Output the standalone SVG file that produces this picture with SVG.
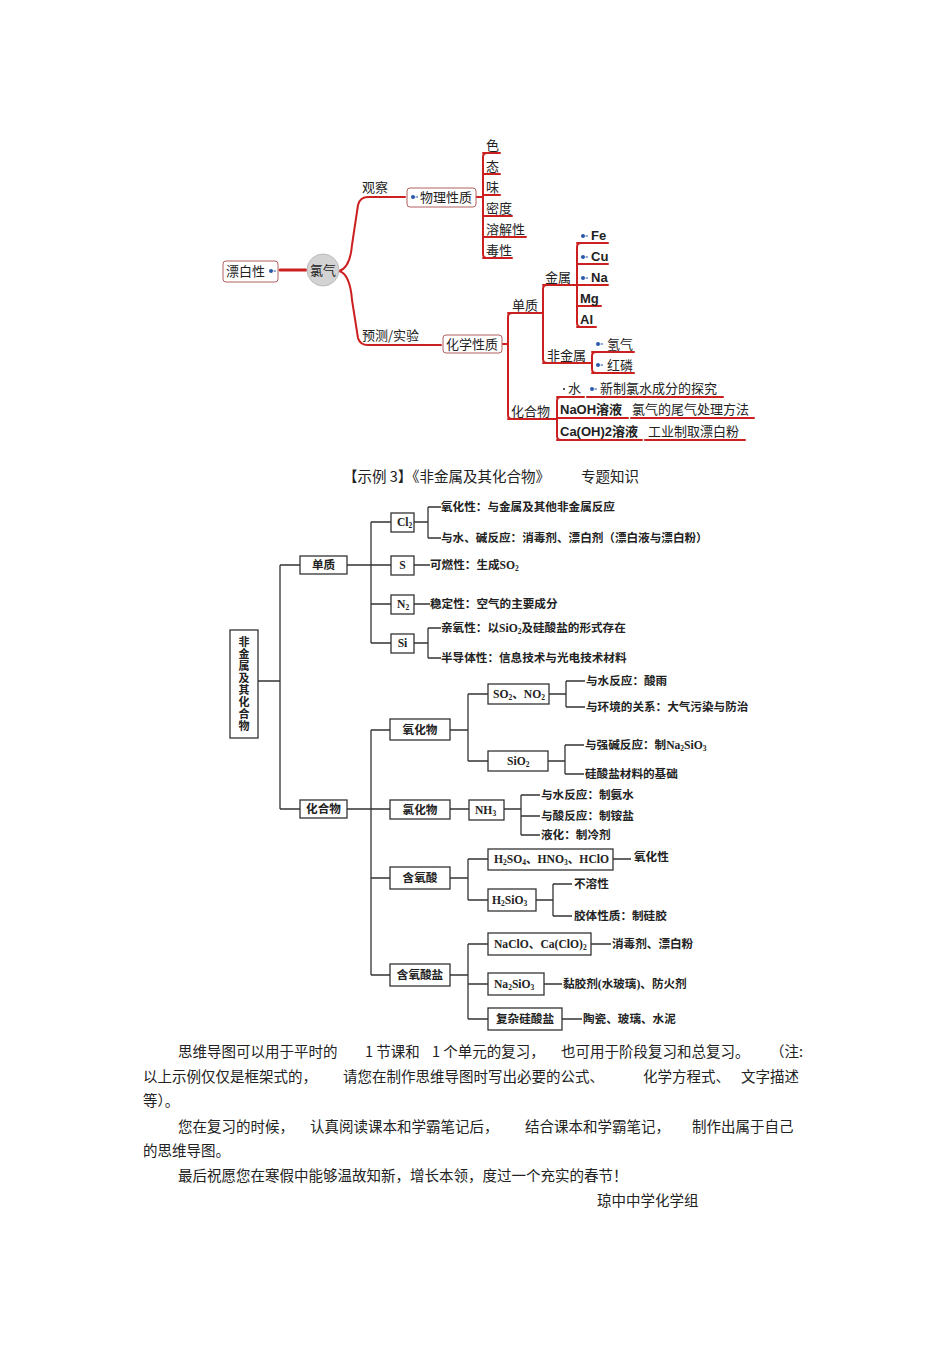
<svg xmlns="http://www.w3.org/2000/svg" width="950" height="1345" viewBox="0 0 950 1345">
<style>
.r{fill:none;stroke:#cc1f1f;stroke-width:2;stroke-linecap:round;stroke-linejoin:round}
.rb{fill:none;stroke:#cc1f1f;stroke-width:3;stroke-linecap:round;stroke-linejoin:round}
.mt{font-family:"Noto Sans CJK SC","Liberation Sans",sans-serif;font-size:13px;fill:#222}
.ml{font-family:"Liberation Sans","Noto Sans CJK SC",sans-serif;font-size:13px;font-weight:bold;fill:#222}
.mbox{fill:#fff;stroke:#b06060;stroke-width:1}
.dot{fill:#2a57a8}
.k{fill:none;stroke:#333;stroke-width:1.3}
.kb{fill:#fff;stroke:#333;stroke-width:1.3}
.t{font-family:"Liberation Serif","Noto Sans CJK SC",serif;font-size:11.6px;fill:#222;font-weight:bold}
.v{font-family:"Noto Sans CJK SC",sans-serif;font-size:11px;fill:#222;font-weight:bold;writing-mode:vertical-rl;letter-spacing:1px}
.p{font-family:"Noto Sans CJK SC","Liberation Sans",sans-serif;font-size:14.5px;fill:#222}
</style>
<rect width="950" height="1345" fill="#fff"/>

<!-- Top mind map -->
<g id="connectors-top">
<path d="M280,270 L306,270" class="rb" stroke-width="4"/>
<path d="M339,271 Q350,268 352,245 L358,205 Q360,197 368,197 L405,197" class="r" stroke-width="2.5"/>
<path d="M339,271 Q350,274 352,300 L358,338 Q360,345 368,345 L441,345" class="r" stroke-width="2.5"/>
<path d="M476,197 L483,197 M487,153 Q483,153 483,157 L483,254 Q483,258 487,258" class="r"/>
<path d="M483,153 L500,153 M483,174 L500,174 M483,195 L500,195 M483,216 L512,216 M483,237 L526,237 M483,258 L512,258" class="r"/>
<path d="M502,344 L508,344 M512,313 Q508,313 508,317 L508,415 Q508,419 512,419" class="r"/>
<path d="M508,313 L541,313 M541,313 L543,313 M547,285 Q543,285 543,289 L543,359 Q543,363 547,363" class="r"/>
<path d="M543,285 L576,285 M576,285 L577,285 M581,243 Q577,243 577,247 L577,323 Q577,327 581,327" class="r"/>
<path d="M577,243 L608,243 M577,264 L608,264 M577,285 L608,285 M577,306 L601,306 M577,327 L596,327" class="r"/>
<path d="M543,363 L590,363 L592,363 M596,352 Q592,352 592,356 L592,369 Q592,373 596,373 M592,352 L634,352 M592,373 L634,373" class="r"/>
<path d="M508,419 L553,419 L557,419 M561,397 Q557,397 557,401 L557,436 Q557,440 561,440" class="r"/>
<path d="M557,397 L584,397 M587,397 L723,397 M557,418 L628,418 M631,418 L754,418 M557,440 L642,440 M645,440 L745,440" class="r"/>
</g>
<g id="n-piaobai">
<rect x="223" y="261" width="55" height="21" rx="3" class="mbox"/>
<text x="226" y="276" class="mt">漂白性</text>
<circle cx="271" cy="271" r="2" class="dot"/><path d="M273.5,271 L276,271" stroke="#2a57a8" stroke-width="1"/>
</g>
<g id="n-lvqi">
<circle cx="323" cy="270" r="16" fill="#d3d3d3" stroke="#bbb" stroke-width="1"/>
<text x="323" y="275" class="mt" text-anchor="middle">氯气</text>
</g>
<g id="n-guancha"><text x="362" y="192" class="mt">观察</text></g>
<g id="n-yuce"><text x="362" y="340" class="mt">预测/实验</text></g>
<g id="n-wuli">
<rect x="407" y="188" width="69" height="19" rx="3" class="mbox"/>
<circle cx="413" cy="197" r="2" class="dot"/><path d="M415.5,197 L418,197" stroke="#2a57a8" stroke-width="1"/>
<text x="420" y="202" class="mt">物理性质</text>
</g>
<g id="n-phys-items">
<text x="486" y="150" class="mt">色</text>
<text x="486" y="171" class="mt">态</text>
<text x="486" y="192" class="mt">味</text>
<text x="486" y="213" class="mt">密度</text>
<text x="486" y="234" class="mt">溶解性</text>
<text x="486" y="255" class="mt">毒性</text>
</g>
<g id="n-huaxue">
<rect x="443" y="335" width="59" height="18" rx="3" class="mbox"/>
<text x="446" y="349" class="mt">化学性质</text>
</g>
<g id="n-danzhi"><text x="512" y="310" class="mt">单质</text></g>
<g id="n-jinshu"><text x="545" y="282" class="mt">金属</text></g>
<g id="n-metals">
<circle cx="583" cy="236" r="2" class="dot"/><path d="M585.5,236 L588,236" stroke="#2a57a8" stroke-width="1"/>
<text x="591" y="240" class="ml">Fe</text>
<circle cx="583" cy="257" r="2" class="dot"/><path d="M585.5,257 L588,257" stroke="#2a57a8" stroke-width="1"/>
<text x="591" y="261" class="ml">Cu</text>
<circle cx="583" cy="278" r="2" class="dot"/><path d="M585.5,278 L588,278" stroke="#2a57a8" stroke-width="1"/>
<text x="591" y="282" class="ml">Na</text>
<text x="580" y="303" class="ml">Mg</text>
<text x="580" y="324" class="ml">Al</text>
</g>
<g id="n-feijinshu"><text x="547" y="360" class="mt">非金属</text></g>
<g id="n-nonmetals">
<circle cx="598" cy="344" r="2" class="dot"/><path d="M600.5,344 L603,344" stroke="#2a57a8" stroke-width="1"/>
<text x="607" y="349" class="mt">氢气</text>
<circle cx="598" cy="365" r="2" class="dot"/><path d="M600.5,365 L603,365" stroke="#2a57a8" stroke-width="1"/>
<text x="607" y="370" class="mt">红磷</text>
</g>
<g id="n-huahewu"><text x="511" y="416" class="mt">化合物</text></g>
<g id="n-compounds">
<circle cx="564" cy="389" r="1" fill="#222"/>
<text x="568" y="393" class="mt">水</text>
<circle cx="592" cy="389" r="2" class="dot"/><path d="M594.5,389 L597,389" stroke="#2a57a8" stroke-width="1"/>
<text x="600" y="393" class="mt">新制氯水成分的探究</text>
<text x="560" y="414" class="ml" font-weight="normal">NaOH溶液</text>
<text x="632" y="414" class="mt">氯气的尾气处理方法</text>
<text x="560" y="436" class="ml" font-weight="normal">Ca(OH)2溶液</text>
<text x="648" y="436" class="mt">工业制取漂白粉</text>
</g>

<!-- caption -->
<g id="caption">
<text x="343" y="482" class="p" font-size="14">【示例 3】《非金属及其化合物》</text>
<text x="581" y="482" class="p" font-size="14">专题知识</text>
</g>

<!-- Bottom tree -->
<g id="connectors-tree">
<path d="M258,681 L280,681 M280,565 L280,809 M280,565 L300,565 M280,809 L300,809" class="k"/>
<path d="M347,565 L371,565 M371,522 L371,643 M371,522 L391,522 M371,565 L391,565 M371,604 L391,604 M371,643 L391,643" class="k"/>
<path d="M414,522 L428,522 M428,507 L428,538 M428,507 L441,507 M428,538 L441,538" class="k"/>
<path d="M414,565 L430,565 M414,604 L430,604" class="k"/>
<path d="M414,643 L428,643 M428,628 L428,658 M428,628 L441,628 M428,658 L441,658" class="k"/>
<path d="M347,809 L390,809 M371,730 L371,975 M371,730 L390,730 M371,878 L390,878 M371,975 L390,975" class="k"/>
<path d="M450,730 L468,730 M468,694 L468,761 M468,694 L488,694 M468,761 L488,761" class="k"/>
<path d="M549,694 L566,694 M566,681 L566,707 M566,681 L585,681 M566,707 L585,707" class="k"/>
<path d="M548,761 L565,761 M565,745 L565,774 M565,745 L584,745 M565,774 L584,774" class="k"/>
<path d="M450,809 L469,809 M504,809 L521,809 M521,795 L521,835 M521,795 L540,795 M521,816 L540,816 M521,835 L540,835" class="k"/>
<path d="M450,878 L468,878 M468,859 L468,900 M468,859 L488,859 M468,900 L488,900" class="k"/>
<path d="M613,859 L631,859 M536,900 L553,900 M553,884 L553,916 M553,884 L572,884 M553,916 L572,916" class="k"/>
<path d="M450,975 L468,975 M468,944 L468,1019 M468,944 L488,944 M468,984 L488,984 M468,1019 L488,1019" class="k"/>
<path d="M591,944 L611,944 M544,984 L562,984 M562,1019 L582,1019" class="k"/>
</g>
<g id="t-root">
<rect x="230" y="630" width="28" height="108" class="kb"/>
<text x="244" y="636" class="v">非金属及其化合物</text>
</g>
<g id="t-danzhi"><rect x="300" y="556" width="47" height="18" class="kb"/><text x="323.5" y="569" class="t" text-anchor="middle">单质</text></g>
<g id="t-huahewu"><rect x="300" y="800" width="47" height="18" class="kb"/><text x="323.5" y="813" class="t" text-anchor="middle">化合物</text></g>
<g id="t-cl2"><rect x="391" y="513" width="23" height="19" class="kb"/><text x="397" y="526" class="t">Cl<tspan font-size="7.5" dy="2">2</tspan></text></g>
<g id="t-s"><rect x="391" y="556" width="23" height="19" class="kb"/><text x="402.5" y="569" class="t" text-anchor="middle">S</text></g>
<g id="t-n2"><rect x="391" y="595" width="23" height="19" class="kb"/><text x="397" y="608" class="t">N<tspan font-size="7.5" dy="2">2</tspan></text></g>
<g id="t-si"><rect x="391" y="634" width="23" height="19" class="kb"/><text x="402.5" y="647" class="t" text-anchor="middle">Si</text></g>
<g id="t-cl2-props">
<text x="441" y="511" class="t">氧化性：与金属及其他非金属反应</text>
<text x="441" y="542" class="t">与水、碱反应：消毒剂、漂白剂（漂白液与漂白粉）</text>
</g>
<g id="t-s-props"><text x="430" y="569" class="t">可燃性：生成SO<tspan font-size="7.5" dy="2">2</tspan></text></g>
<g id="t-n2-props"><text x="430" y="608" class="t">稳定性：空气的主要成分</text></g>
<g id="t-si-props">
<text x="441" y="632" class="t">亲氧性：以SiO<tspan font-size="7.5" dy="2">2</tspan><tspan dy="-2">及硅酸盐的形式存在</tspan></text>
<text x="441" y="662" class="t">半导体性：信息技术与光电技术材料</text>
</g>
<g id="t-yanghuawu"><rect x="390" y="719" width="60" height="21" class="kb"/><text x="420" y="734" class="t" text-anchor="middle">氧化物</text></g>
<g id="t-lvhuawu"><rect x="390" y="800" width="60" height="19" class="kb"/><text x="420" y="814" class="t" text-anchor="middle">氯化物</text></g>
<g id="t-hanyangsuan"><rect x="390" y="867" width="60" height="22" class="kb"/><text x="420" y="882" class="t" text-anchor="middle">含氧酸</text></g>
<g id="t-hanyangsuanyan"><rect x="390" y="964" width="60" height="22" class="kb"/><text x="420" y="979" class="t" text-anchor="middle">含氧酸盐</text></g>
<g id="t-so2"><rect x="488" y="684" width="61" height="20" class="kb"/><text x="493" y="698" class="t">SO<tspan font-size="7.5" dy="2">2</tspan><tspan dy="-2">、NO</tspan><tspan font-size="7.5" dy="2">2</tspan></text></g>
<g id="t-so2-props">
<text x="586" y="685" class="t">与水反应：酸雨</text>
<text x="586" y="711" class="t">与环境的关系：大气污染与防治</text>
</g>
<g id="t-sio2"><rect x="488" y="751" width="60" height="20" class="kb"/><text x="507" y="765" class="t">SiO<tspan font-size="7.5" dy="2">2</tspan></text></g>
<g id="t-sio2-props">
<text x="585" y="749" class="t">与强碱反应：制Na<tspan font-size="7.5" dy="2">2</tspan><tspan dy="-2">SiO</tspan><tspan font-size="7.5" dy="2">3</tspan></text>
<text x="585" y="778" class="t">硅酸盐材料的基础</text>
</g>
<g id="t-nh3"><rect x="469" y="800" width="35" height="20" class="kb"/><text x="475" y="814" class="t">NH<tspan font-size="7.5" dy="2">3</tspan></text></g>
<g id="t-nh3-props">
<text x="541" y="799" class="t">与水反应：制氨水</text>
<text x="541" y="820" class="t">与酸反应：制铵盐</text>
<text x="541" y="839" class="t">液化：制冷剂</text>
</g>
<g id="t-h2so4"><rect x="488" y="849" width="125" height="21" class="kb"/><text x="494" y="863" class="t">H<tspan font-size="7.5" dy="2">2</tspan><tspan dy="-2">SO</tspan><tspan font-size="7.5" dy="2">4</tspan><tspan dy="-2">、HNO</tspan><tspan font-size="7.5" dy="2">3</tspan><tspan dy="-2">、HClO</tspan></text></g>
<g id="t-h2so4-props"><text x="634" y="861" class="t">氧化性</text></g>
<g id="t-h2sio3"><rect x="488" y="889" width="48" height="22" class="kb"/><text x="492" y="904" class="t">H<tspan font-size="7.5" dy="2">2</tspan><tspan dy="-2">SiO</tspan><tspan font-size="7.5" dy="2">3</tspan></text></g>
<g id="t-h2sio3-props">
<text x="574" y="888" class="t">不溶性</text>
<text x="574" y="920" class="t">胶体性质：制硅胶</text>
</g>
<g id="t-naclo"><rect x="488" y="933" width="103" height="22" class="kb"/><text x="494" y="948" class="t">NaClO、Ca(ClO)<tspan font-size="7.5" dy="2">2</tspan></text></g>
<g id="t-naclo-props"><text x="612" y="948" class="t">消毒剂、漂白粉</text></g>
<g id="t-na2sio3"><rect x="488" y="973" width="56" height="22" class="kb"/><text x="494" y="988" class="t">Na<tspan font-size="7.5" dy="2">2</tspan><tspan dy="-2">SiO</tspan><tspan font-size="7.5" dy="2">3</tspan></text></g>
<g id="t-na2sio3-props"><text x="563" y="988" class="t">黏胶剂(水玻璃)、防火剂</text></g>
<g id="t-fuza"><rect x="488" y="1008" width="74" height="22" class="kb"/><text x="525" y="1023" class="t" text-anchor="middle">复杂硅酸盐</text></g>
<g id="t-fuza-props"><text x="583" y="1023" class="t">陶瓷、玻璃、水泥</text></g>

<!-- paragraphs -->
<g id="paragraphs">
<text x="178" y="1057" class="p">思维导图可以用于平时的</text>
<text x="365" y="1057" class="p">1 节课和</text>
<text x="432" y="1057" class="p">1 个单元的复习，</text>
<text x="561" y="1057" class="p">也可用于阶段复习和总复习。</text>
<text x="770" y="1057" class="p">（注:</text>
<text x="143" y="1082" class="p">以上示例仅仅是框架式的，</text>
<text x="343" y="1082" class="p">请您在制作思维导图时写出必要的公式、</text>
<text x="643" y="1082" class="p">化学方程式、</text>
<text x="741" y="1082" class="p">文字描述</text>
<text x="143" y="1106" class="p">等）。</text>
<text x="178" y="1132" class="p">您在复习的时候，</text>
<text x="310" y="1132" class="p">认真阅读课本和学霸笔记后，</text>
<text x="525" y="1132" class="p">结合课本和学霸笔记，</text>
<text x="692" y="1132" class="p">制作出属于自己</text>
<text x="143" y="1156" class="p">的思维导图。</text>
<text x="178" y="1181" class="p">最后祝愿您在寒假中能够温故知新，增长本领，度过一个充实的春节！</text>
<text x="597" y="1206" class="p">琼中中学化学组</text>
</g>
</svg>
